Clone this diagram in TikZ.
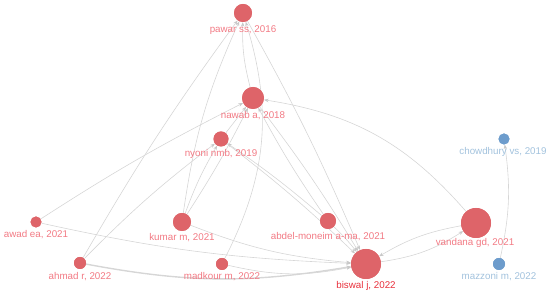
\documentclass[tikz,border=0pt]{standalone}
\usepackage{fontspec}
\setmainfont{Liberation Sans}
\usetikzlibrary{arrows.meta}
\definecolor{nodered}{HTML}{DE6469}
\definecolor{nodeblue}{HTML}{6D9CCC}
\definecolor{labred}{HTML}{F27A84}
\definecolor{labstrong}{HTML}{E8303C}
\definecolor{labblue}{HTML}{A2C2DD}
\definecolor{edgegray}{HTML}{D6D6D6}
\definecolor{tipgray}{HTML}{C8C8C8}
\tikzset{
  paper/.style={circle, inner sep=0pt, fill=nodered, draw=none},
  bluepaper/.style={paper, fill=nodeblue},
  lab/.style={font=\fontsize{9.8}{11}\selectfont, text=labred, inner sep=0pt},
  bluelab/.style={lab, text=labblue},
  strong/.style={lab, text=labstrong},
  link/.style={draw=edgegray, line width=0.6pt, -{Stealth[length=4.5pt,width=3.5pt,fill=tipgray,color=tipgray]}},
  heavylink/.style={link, line width=1.4pt}
}
\begin{document}
\begin{tikzpicture}[x=1pt,y=1pt]
\useasboundingbox (0,0) rectangle (550,296);
% nodes (circles)
\node[paper, minimum size=18pt] (pawar) at (243,283) {};
\node[paper, minimum size=22pt] (nawab) at (253,198) {};
\node[paper, minimum size=15pt] (nyoni) at (221,157) {};
\node[paper, minimum size=18pt] (kumar) at (182,74) {};
\node[paper, minimum size=16pt] (abdel) at (328,75) {};
\node[paper, minimum size=11pt] (awad) at (36,74) {};
\node[paper, minimum size=12pt] (ahmad) at (80,33) {};
\node[paper, minimum size=12pt] (madkour) at (222,32) {};
\node[paper, minimum size=30pt] (biswal) at (366,32) {};
\node[paper, minimum size=30pt] (vandana) at (476,73) {};
\node[bluepaper, minimum size=11pt] (chowdhury) at (504,157) {};
\node[bluepaper, minimum size=12pt] (mazzoni) at (499,32) {};
% links
\path[link] (ahmad) to[bend left=3] (pawar);
\path[link] (ahmad) to[bend left=4] (nyoni);
\path[heavylink] (ahmad) to[bend right=10] (biswal);
\path[link] (awad) to[bend left=3] (nawab);
\path[link] (awad) to[bend right=5] (biswal);
\path[link] (kumar) to[bend left=8] (pawar);
\path[link] (kumar) to[bend left=5] (nyoni);
\path[link] (kumar) to[bend right=3] (nawab);
\path[link] (kumar) to[bend right=8] (biswal);
\path[link] (madkour) to[bend right=22] (pawar);
\path[link] (madkour) to[bend right=12] (biswal);
\path[link] (nyoni) -- (nawab);
\path[link] (nawab) to[bend left=8] (pawar);
\path[link] (abdel) to[bend left=3] (nawab);
\path[link] (abdel) to[bend right=3] (nyoni);
\path[link] (abdel) to[bend left=4] (biswal);
\path[link] (pawar) to[bend left=3] (biswal);
\path[link] (nawab) to[bend left=3] (biswal);
\path[link] (nyoni) to[bend left=3] (biswal);
\path[link] (vandana) to[bend right=20] (nawab);
\path[link] (vandana) to[bend right=10] (biswal);
\path[link] (biswal) to[bend right=12] (vandana);
\path[link] (mazzoni) to[bend right=10] (chowdhury);
% redraw circles on top
\node[paper, minimum size=18pt] at (pawar) {};
\node[paper, minimum size=22pt] at (nawab) {};
\node[paper, minimum size=15pt] at (nyoni) {};
\node[paper, minimum size=18pt] at (kumar) {};
\node[paper, minimum size=16pt] at (abdel) {};
\node[paper, minimum size=11pt] at (awad) {};
\node[paper, minimum size=12pt] at (ahmad) {};
\node[paper, minimum size=12pt] at (madkour) {};
\node[paper, minimum size=30pt] at (biswal) {};
\node[paper, minimum size=30pt] at (vandana) {};
\node[bluepaper, minimum size=11pt] at (chowdhury) {};
\node[bluepaper, minimum size=12pt] at (mazzoni) {};
% labels
\node[lab] (pawarL) at (243,266) {pawar ss, 2016};
\node[lab] (nawabL) at (253,180) {nawab a, 2018};
\node[lab] (nyoniL) at (221,142) {nyoni nmb, 2019};
\node[lab] (kumarL) at (182,58) {kumar m, 2021};
\node[lab] (abdelL) at (328,59) {abdel-moneim a-ma, 2021};
\node[lab] (awadL) at (36,61) {awad ea, 2021};
\node[lab] (ahmadL) at (80,19) {ahmad r, 2022};
\node[lab] (madkourL) at (222,19) {madkour m, 2022};
\node[strong] (biswalL) at (366,10) {biswal j, 2022};
\node[lab] (vandanaL) at (475,53) {vandana gd, 2021};
\node[bluelab] (chowdhuryL) at (503,144) {chowdhury vs, 2019};
\node[bluelab] (mazzoniL) at (499,19) {mazzoni m, 2022};
\end{tikzpicture}
\end{document}
